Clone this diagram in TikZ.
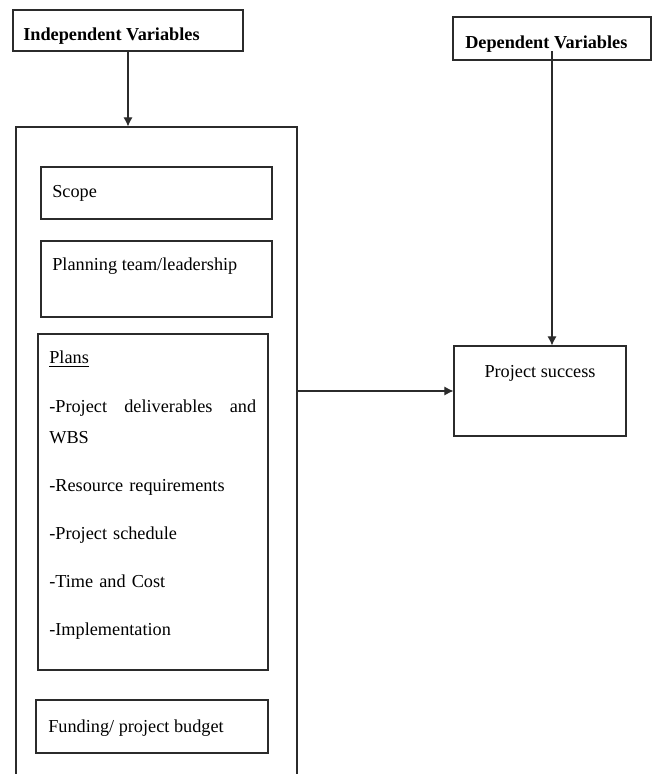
\documentclass[tikz,border=0pt]{standalone}
\usepackage{fontspec}
\setmainfont{Liberation Serif}
\usetikzlibrary{arrows.meta,positioning,fit}
\definecolor{FrameDark}{HTML}{2B2B2B}
\tikzset{
  varbox/.style={draw=FrameDark, line width=0.7pt, inner sep=0pt},
  headtext/.style={font=\fontsize{12}{14}\selectfont\bfseries, inner sep=0pt, anchor=base west},
  itemtext/.style={font=\fontsize{12}{14}\selectfont, inner sep=0pt, anchor=base west},
  arrow/.style={-{Latex[length=6pt,width=6pt]}, line width=0.7pt, FrameDark}
}

\begin{document}
\begin{tikzpicture}[x=0.6575pt, y=-0.6575pt]
    \clip (0,0) rectangle (655,774);

    % independent side
    \node[varbox, fit={(13,10) (243,51)}] (indep) {};
    \node[headtext] (indeptxt) at (23,41) {Independent Variables};
    \node[varbox, fit={(16,127) (297,800)}] (outer) {};

    \node[varbox, fit={(41,167) (272,219)}] (scope) {};
    \node[itemtext] (scopetxt) at (52,198) {Scope};
    \node[varbox, fit={(41,241) (272,317)}] (team) {};
    \node[itemtext] (teamtxt) at (52,271) {Planning team/leadership};
    \node[varbox, fit={(38,334) (268,670)}] (plans) {};
    \node[itemtext, text width=136pt, font=\fontsize{12}{20.4}\selectfont] (planstxt) at (49,364)
      {\setlength{\parskip}{11.2pt}\underline{Plans}\par
       -Project\hfill deliverables\hfill and\\WBS\par
       -Resource requirements\par
       -Project schedule\par
       -Time and Cost\par
       -Implementation};
    \node[varbox, fit={(36,700) (268,753)}] (funding) {};
    \node[itemtext] (fundingtxt) at (48,732) {Funding/ project budget};

    % dependent side
    \node[varbox, fit={(453,17) (651,60)}] (dep) {};
    \node[headtext] (deptxt) at (465,49) {Dependent Variables};
    \node[varbox, fit={(454,346) (626,436)}] (success) {};
    \node[itemtext, anchor=base] (successtxt) at (540,377) {Project success};

    \draw[arrow] (indep.south) -- (indep.south |- outer.north);
    \draw[arrow] ([yshift=6pt]dep.south) -- (dep.south |- success.north);
    \draw[arrow] (outer.east |- success.west) -- (success.west);
\end{tikzpicture}
\end{document}
